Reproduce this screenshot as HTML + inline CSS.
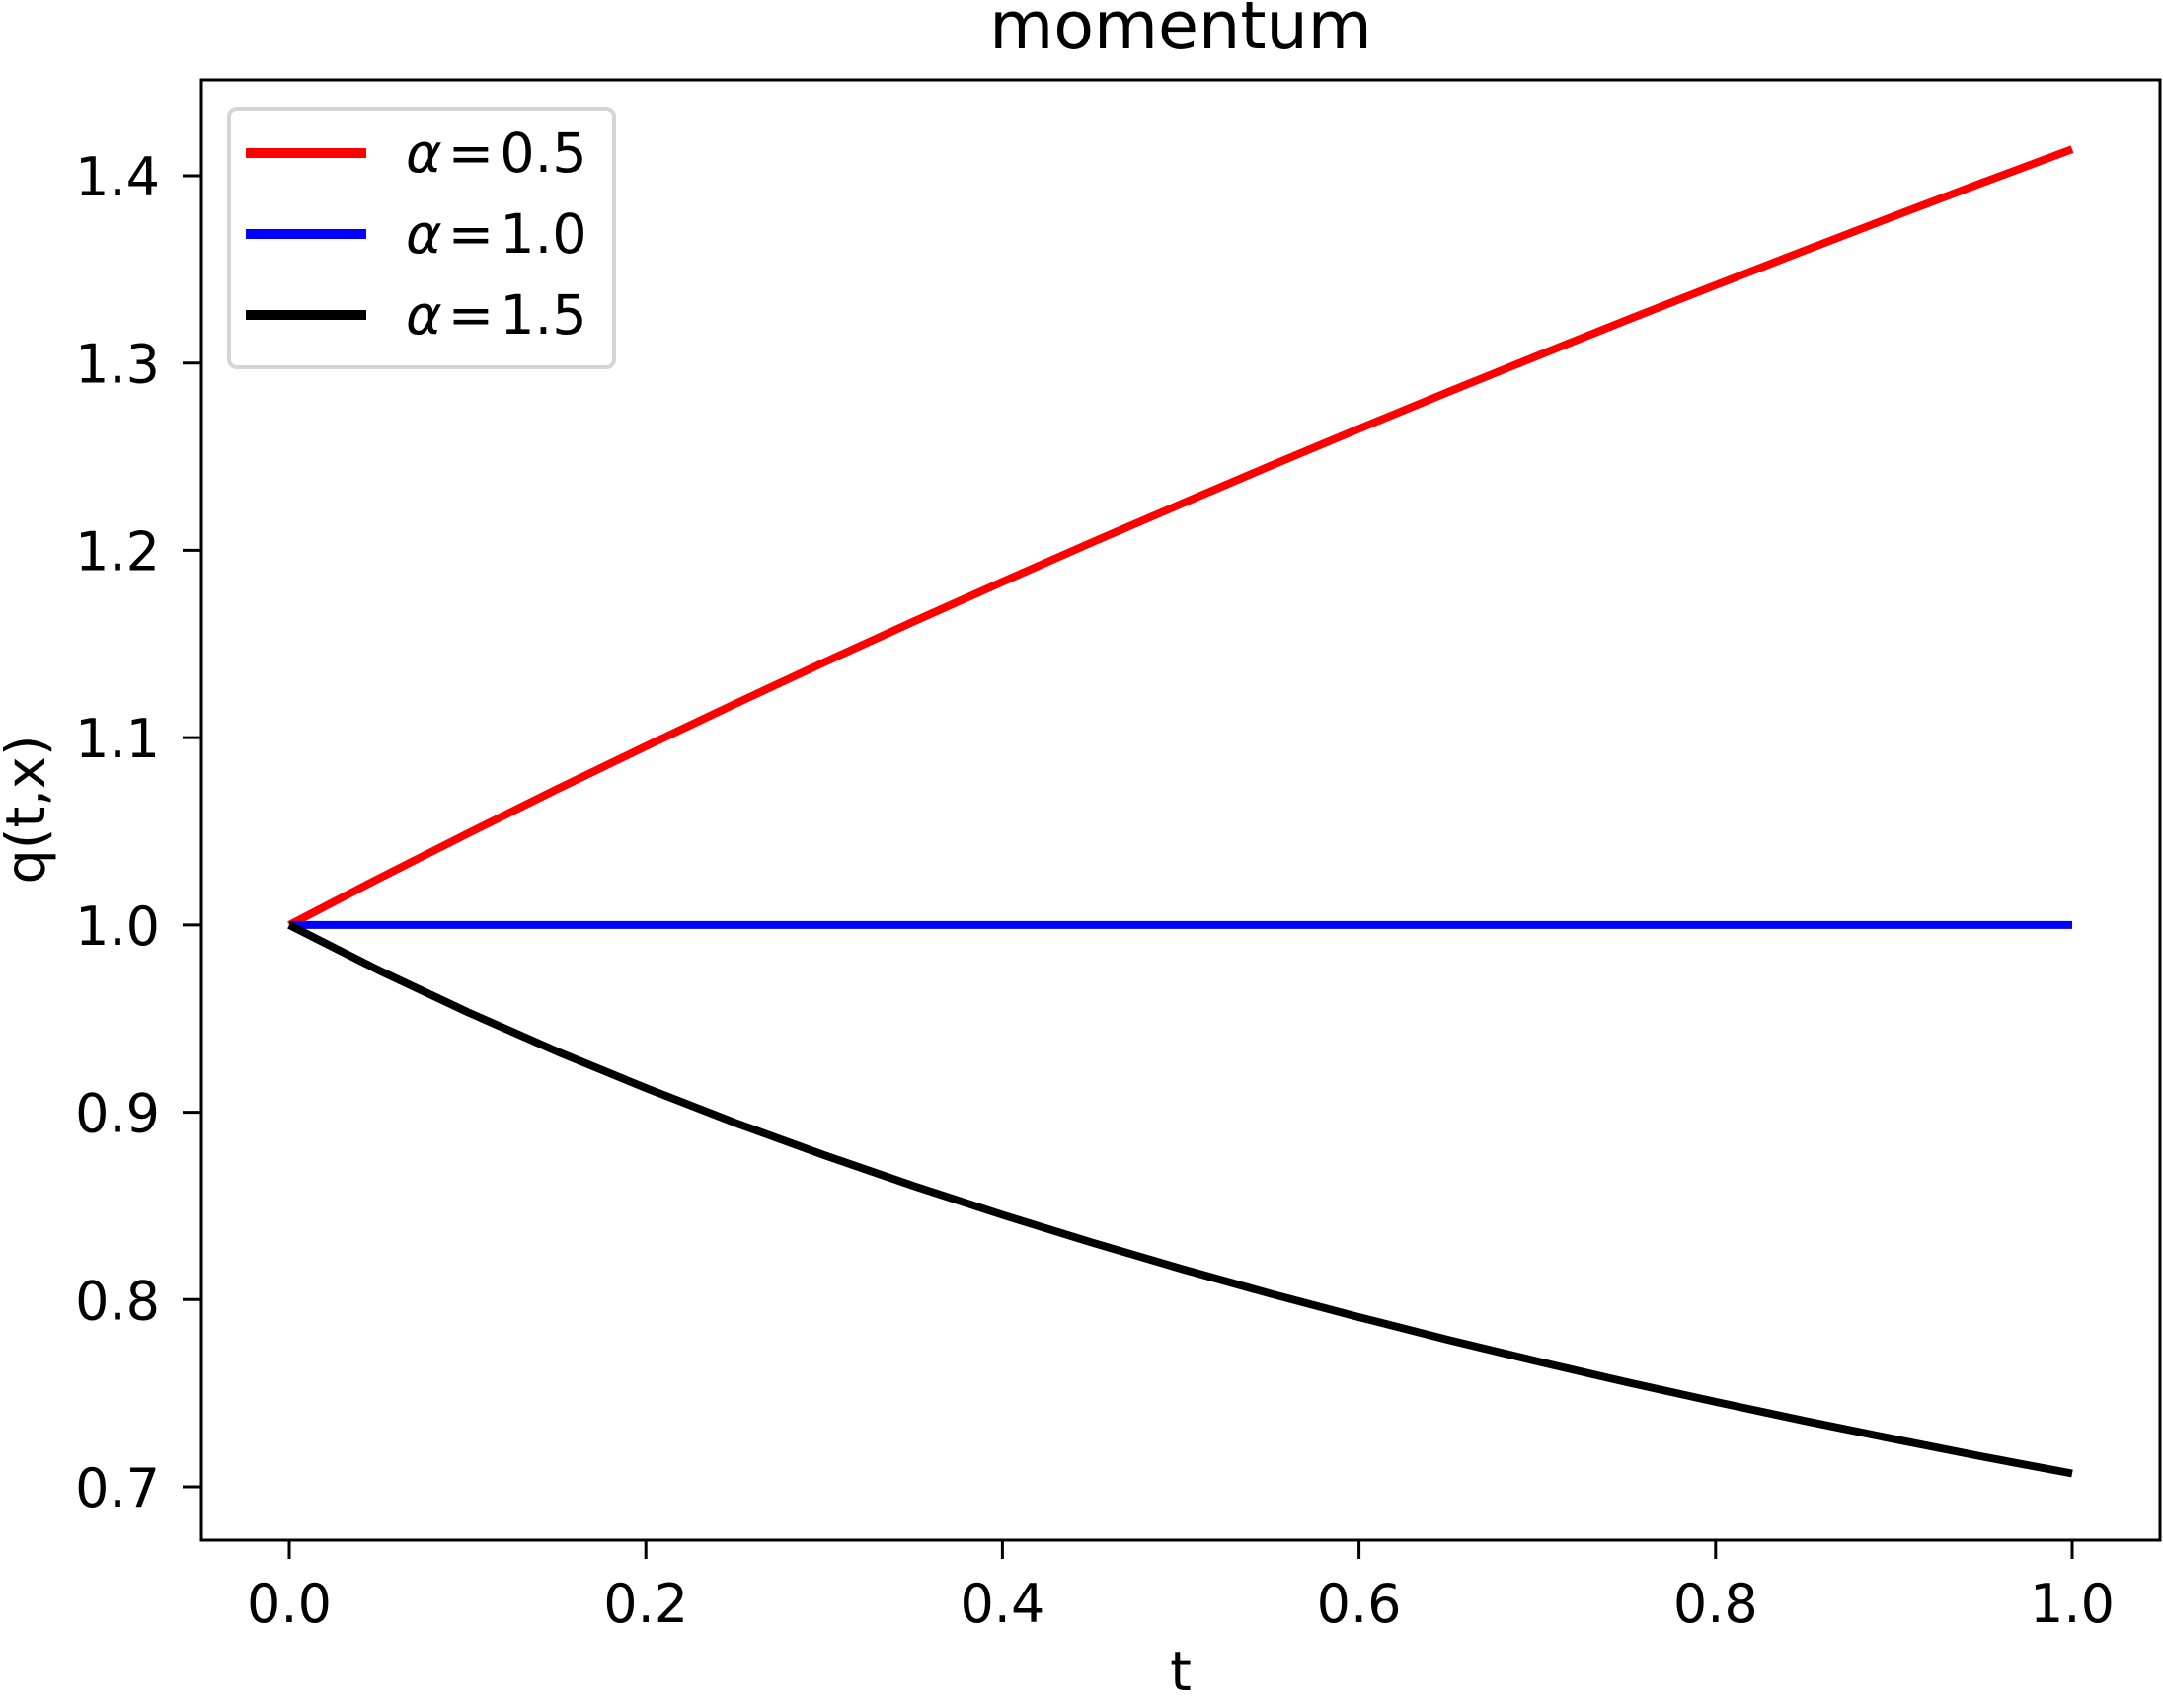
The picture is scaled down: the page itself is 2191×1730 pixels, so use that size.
<!DOCTYPE html>
<html><head><meta charset="utf-8"><style>
html,body{margin:0;padding:0;background:#fff;}
svg{display:block;font-family:"DejaVu Sans","Liberation Sans",sans-serif;}
</style></head><body>
<svg id="chart" width="2191" height="1730" viewBox="0 0 2191 1730" xmlns="http://www.w3.org/2000/svg">
<text x="1196" y="49" font-size="66.7" text-anchor="middle">momentum</text>
<g id="plot"></g>
<g id="axes"></g>
<text x="1196" y="1712" font-size="55.6" text-anchor="middle">t</text>
<text transform="translate(45,820) rotate(-90)" font-size="55.6" text-anchor="middle">q(t,x)</text>
<g>
<rect x="232" y="110" width="390" height="262" rx="8" fill="#fff" fill-opacity="0.8" stroke="#d5d5d5" stroke-width="4"/>
<g>
<line x1="249" y1="155" x2="371" y2="155" stroke="#ff0000" stroke-width="10"/>
<text x="411" y="174" font-size="55.6"><tspan font-style="italic">α</tspan><tspan dx="6">=</tspan><tspan dx="6">0.5</tspan></text></g>
<g>
<line x1="249" y1="237" x2="371" y2="237" stroke="#0000ff" stroke-width="10"/>
<text x="411" y="256" font-size="55.6"><tspan font-style="italic">α</tspan><tspan dx="6">=</tspan><tspan dx="6">1.0</tspan></text></g>
<g>
<line x1="249" y1="319" x2="371" y2="319" stroke="#000000" stroke-width="10"/>
<text x="411" y="338" font-size="55.6"><tspan font-style="italic">α</tspan><tspan dx="6">=</tspan><tspan dx="6">1.5</tspan></text></g>
</g>
</svg>
<script>
const tValues = [0,0.05,0.1,0.15,0.2,0.25,0.3,0.35,0.4,0.45,0.5,0.55,0.6,0.65,0.7,0.75,0.8,0.85,0.9,0.95,1.0];
const seriesA05 = [1,1.0247,1.0488,1.0724,1.0954,1.1180,1.1402,1.1619,1.1832,1.2042,1.2247,1.2450,1.2649,1.2845,1.3038,1.3229,1.3416,1.3601,1.3784,1.3964,1.4142];
const seriesA10 = [1,1,1,1,1,1,1,1,1,1,1,1,1,1,1,1,1,1,1,1,1];
const seriesA15 = [1,0.9759,0.9535,0.9325,0.9129,0.8944,0.8771,0.8607,0.8452,0.8305,0.8165,0.8032,0.7906,0.7785,0.7670,0.7559,0.7454,0.7352,0.7255,0.7161,0.7071];
const xTicks = [0,0.2,0.4,0.6,0.8,1.0];
const xTickLabels = ["0.0","0.2","0.4","0.6","0.8","1.0"];
const yTicks = [0.7,0.8,0.9,1.0,1.1,1.2,1.3,1.4];
const yTickLabels = ["0.7","0.8","0.9","1.0","1.1","1.2","1.3","1.4"];

const NS="http://www.w3.org/2000/svg";
const L=204,R=2188,T=81,B=1560;
function xs(v){return 293+(2099-293)*v;}
function ys(v){return 1506-(v-0.7)/0.7*(1506-178);}
function mk(tag,attrs,parent){const e=document.createElementNS(NS,tag);for(const k in attrs)e.setAttribute(k,attrs[k]);parent.appendChild(e);return e;}
const plot=document.getElementById('plot'), axes=document.getElementById('axes');
const series=[[seriesA05,'#ff0000','line-alpha-0-5'],[seriesA10,'#0000ff','line-alpha-1-0'],[seriesA15,'#000000','line-alpha-1-5']];
series.forEach(s=>{
  const d=s[0].map((v,i)=>(i?'L':'M')+xs(tValues[i]).toFixed(1)+','+ys(v).toFixed(1)).join(' ');
  const p=mk('path',{d:d,fill:'none',stroke:s[1],'stroke-width':'8','stroke-linejoin':'round'},plot);
  
  
});
const frame=mk('rect',{x:L,y:T,width:R-L,height:B-T,fill:'none',stroke:'#000','stroke-width':'3'},axes);


xTicks.forEach((v,i)=>{
  const g=mk('g',{},axes);
  
  
  mk('line',{x1:xs(v),x2:xs(v),y1:B,y2:B+19,stroke:'#000','stroke-width':'3'},g);
  const t=mk('text',{x:xs(v),y:1643,'font-size':'54','text-anchor':'middle'},g);
  t.textContent=xTickLabels[i];
});
yTicks.forEach((v,i)=>{
  const g=mk('g',{},axes);
  
  
  mk('line',{x1:L-19,x2:L,y1:ys(v),y2:ys(v),stroke:'#000','stroke-width':'3'},g);
  const t=mk('text',{x:162,y:ys(v)+20,'font-size':'54','text-anchor':'end'},g);
  t.textContent=yTickLabels[i];
});
</script>
</body></html>
